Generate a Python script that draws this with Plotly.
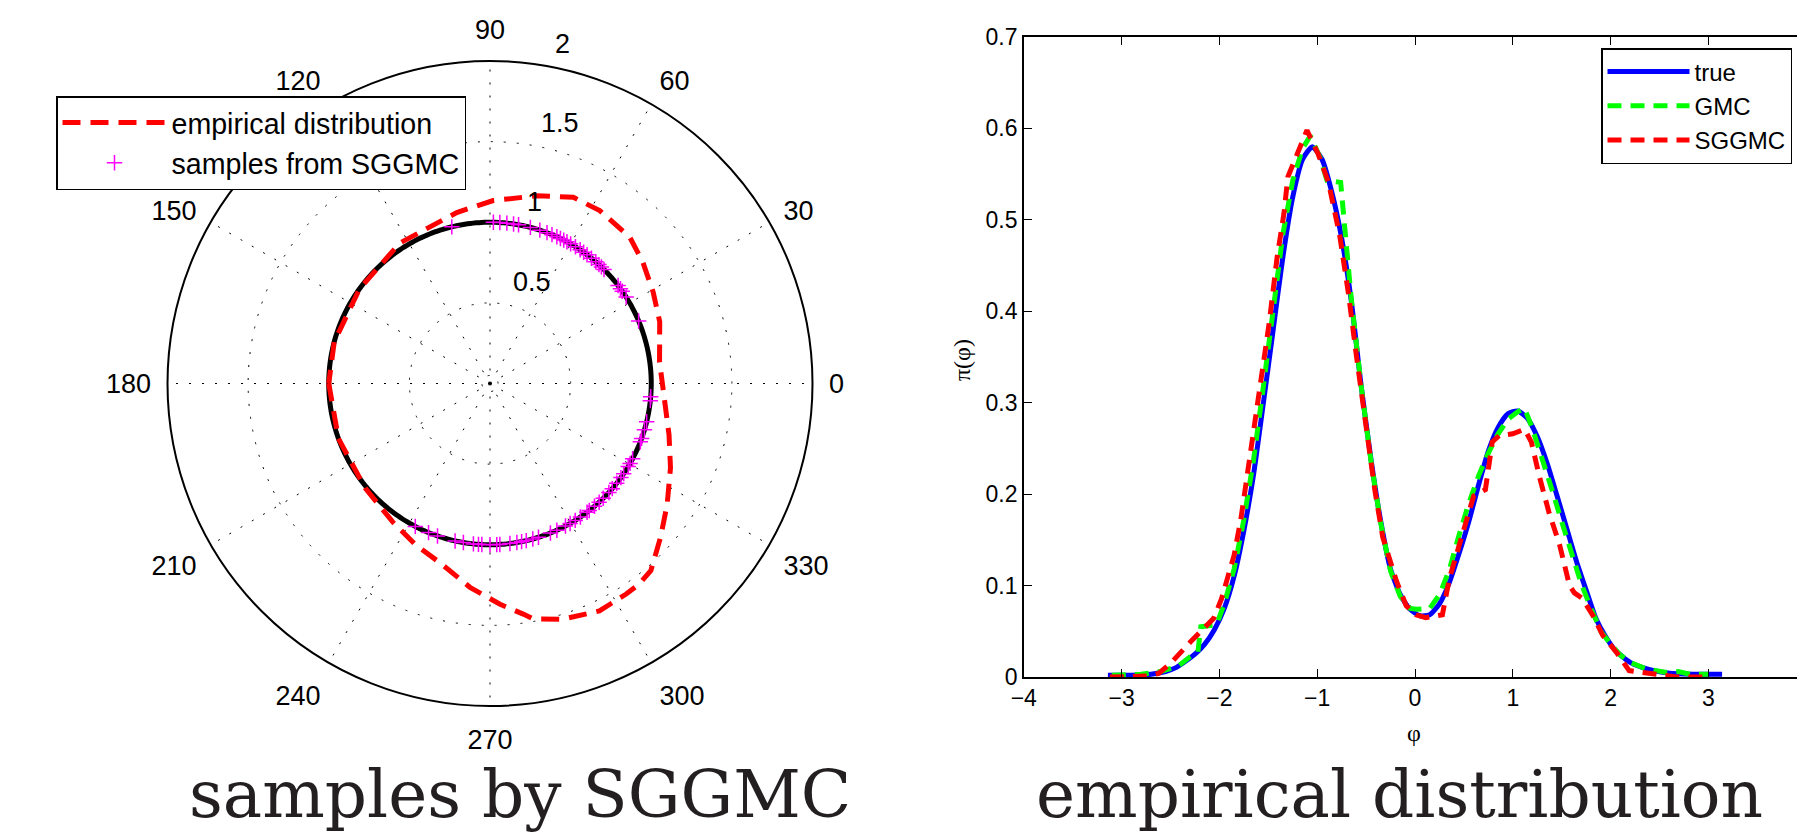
import math
import numpy as np
import plotly.graph_objects as go

# ---------------- data: polar panel ----------------
emp_theta = [-180, -160, -140, -125, -115, -105.5, -95.6, -87.4, -81.8, -79.6, -72.8, -64.3,
             -57.1, -53.4, -49.3, -42.1, -34.3, -25, -16, -4.9, 7.3, 20, 29.3, 38.4, 46.3,
             57.6, 65.9, 76, 89, 101, 122.7, 144, 165, 180]
emp_r = [1.0, 1.0, 1.01, 1.05, 1.10, 1.155, 1.27, 1.37, 1.445, 1.485, 1.53, 1.565,
         1.555, 1.55, 1.53, 1.425, 1.33, 1.235, 1.155, 1.085, 1.06, 1.12, 1.16, 1.21, 1.255,
         1.27, 1.265, 1.20, 1.135, 1.08, 1.035, 1.0, 1.0, 1.0]

sample_theta = [103.7, 88.8, 86.5, 84.0, 81.6, 79.8, 75.5, 72.0, 69.3, 67.4, 65.5, 64.1, 62.8,
                61.5, 60.0, 58.0, 56.0, 54.5, 53.0, 51.0, 49.0, 47.5, 46.3, 45.0, 37.4, 36.0,
                34.9, 32.4, 22.8, -4.7, -6.1, -13.7, -16.7, -19.9, -21.2, -27.8, -29.7, -31.0,
                -34.0, -35.7, -38.2, -40.7, -42.5, -45.4, -47.4, -49.6, -52.0, -53.0, -55.9,
                -58.1, -60.2, -62.1, -65.5, -68.0, -72.5, -74.6, -77.0, -78.7, -80.4, -82.9,
                -86.5, -87.6, -90.0, -92.9, -94.1, -95.9, -99.5, -102.5, -109.0, -112.4, -117.6]
sample_r = [1.0] * len(sample_theta)

unit_radius = 1.0
angle_ticks = [0, 30, 60, 90, 120, 150, 180, 210, 240, 270, 300, 330]
radial_grid = [0.05, 0.5, 1, 1.5, 2]
radial_label_vals = [0.5, 1, 1.5, 2]
radial_labels = ["0.5", "1", "1.5", "2"]
r_max = 2.0

# ---------------- data: density panel ----------------
true_phi = [-3.14, -2.9, -2.7, -2.55, -2.45, -2.35, -2.25, -2.15, -2.05, -1.95, -1.85, -1.75,
            -1.65, -1.55, -1.45, -1.35, -1.25, -1.15, -1.05, -0.95, -0.85, -0.75, -0.65, -0.55,
            -0.45, -0.35, -0.25, -0.15, -0.05, 0.05, 0.15, 0.25, 0.35, 0.45, 0.55, 0.65, 0.75,
            0.85, 0.95, 1.05, 1.15, 1.25, 1.35, 1.45, 1.55, 1.65, 1.75, 1.85, 1.95, 2.05, 2.2,
            2.4, 2.6, 2.85, 3.14]
true_pi = [0.002, 0.002, 0.003, 0.006, 0.010, 0.017, 0.025, 0.036, 0.052, 0.075, 0.110, 0.160,
           0.222, 0.300, 0.380, 0.460, 0.525, 0.566, 0.580, 0.566, 0.530, 0.480, 0.410, 0.318,
           0.238, 0.170, 0.118, 0.090, 0.074, 0.067, 0.068, 0.080, 0.103, 0.135, 0.170, 0.210,
           0.247, 0.273, 0.288, 0.291, 0.283, 0.263, 0.234, 0.199, 0.163, 0.127, 0.095, 0.064,
           0.044, 0.029, 0.016, 0.008, 0.004, 0.003, 0.003]

gmc_phi = [-3.1, -2.8, -2.6, -2.42, -2.3, -2.22, -2.19, -2.03, -1.95, -1.85, -1.75, -1.65,
           -1.55, -1.45, -1.35, -1.25, -1.15, -1.07, -0.97, -0.9, -0.76, -0.7, -0.65, -0.55,
           -0.45, -0.35, -0.25, -0.15, -0.05, 0.02, 0.15, 0.25, 0.35, 0.45, 0.55, 0.65, 0.75,
           0.85, 0.95, 1.05, 1.12, 1.2, 1.3, 1.4, 1.5, 1.6, 1.7, 1.8, 1.9, 2.0, 2.1, 2.2, 2.36,
           2.57, 2.69, 2.81, 3.0]
gmc_pi = [0.002, 0.003, 0.006, 0.012, 0.022, 0.027, 0.055, 0.057, 0.080, 0.118, 0.172, 0.238,
          0.318, 0.405, 0.485, 0.543, 0.578, 0.592, 0.568, 0.543, 0.541, 0.470, 0.412, 0.318,
          0.236, 0.168, 0.116, 0.088, 0.075, 0.074, 0.075, 0.090, 0.117, 0.155, 0.190, 0.220,
          0.245, 0.266, 0.282, 0.290, 0.294, 0.272, 0.240, 0.205, 0.170, 0.135, 0.102, 0.075,
          0.050, 0.036, 0.024, 0.016, 0.009, 0.005, 0.006, 0.003, 0.003]

sg_phi = [-3.12, -2.76, -2.62, -2.49, -2.29, -2.15, -2.06, -1.98, -1.85, -1.78, -1.68, -1.58,
          -1.49, -1.41, -1.34, -1.3, -1.105, -0.99, -0.885, -0.77, -0.68, -0.6, -0.51, -0.41,
          -0.33, -0.19, -0.09, 0.01, 0.11, 0.28, 0.35, 0.44, 0.52, 0.6, 0.72, 0.79, 0.86, 1.0,
          1.12, 1.19, 1.27, 1.37, 1.48, 1.58, 1.63, 1.71, 1.82, 1.92, 2.06, 2.19, 2.29, 2.5,
          2.67, 2.98]
sg_pi = [0.0, 0.001, 0.004, 0.016, 0.039, 0.055, 0.064, 0.085, 0.133, 0.173, 0.245, 0.316,
         0.388, 0.459, 0.507, 0.547, 0.598, 0.572, 0.541, 0.483, 0.419, 0.352, 0.280, 0.204,
         0.153, 0.105, 0.078, 0.068, 0.065, 0.068, 0.107, 0.140, 0.173, 0.198, 0.205, 0.257,
         0.264, 0.266, 0.271, 0.257, 0.220, 0.180, 0.144, 0.100, 0.092, 0.086, 0.067, 0.0455,
         0.027, 0.007, 0.0055, 0.0025, 0.0, 0.0]

x_ticks = [-4, -3, -2, -1, 0, 1, 2, 3, 4]

# ---------------- figure ----------------
W, H = 1797, 834
SANS = "Liberation Sans, Arial, sans-serif"
fig = go.Figure()

circle_theta = np.linspace(0, 360, 361)
fig.add_trace(go.Scatterpolar(
    r=[unit_radius] * len(circle_theta), theta=circle_theta, mode="lines",
    line=dict(color="black", width=5), showlegend=False, hoverinfo="skip"))
fig.add_trace(go.Scatterpolar(
    r=sample_r, theta=sample_theta, mode="markers", name="samples from SGGMC",
    marker=dict(symbol="cross-thin", size=11, line=dict(color="#ff00ff", width=1.5)),
    legend="legend", legendrank=2, legendgroup="b"))
fig.add_trace(go.Scatterpolar(
    r=emp_r, theta=emp_theta, mode="lines", name="empirical distribution",
    line=dict(color="#ff0000", width=5, dash="18px,10px"),
    legend="legend", legendrank=1, legendgroup="a"))

fig.add_trace(go.Scatter(x=true_phi, y=true_pi, mode="lines", name="true",
                         line=dict(color="#0000ff", width=5, shape="spline", smoothing=0.6),
                         xaxis="x", yaxis="y", legend="legend2"))
fig.add_trace(go.Scatter(x=gmc_phi, y=gmc_pi, mode="lines", name="GMC",
                         line=dict(color="#00ff00", width=5, dash="14px,9px"),
                         xaxis="x", yaxis="y", legend="legend2"))
fig.add_trace(go.Scatter(x=sg_phi, y=sg_pi, mode="lines", name="SGGMC",
                         line=dict(color="#ff0000", width=5, dash="14px,9px"),
                         xaxis="x", yaxis="y", legend="legend2"))

cx, cy, R = 490, 383.5, 322.5
fig.update_layout(
    width=W, height=H, margin=dict(l=0, r=0, t=0, b=0, autoexpand=False),
    paper_bgcolor="white", plot_bgcolor="white",
    font=dict(family=SANS, color="black"),
    polar=dict(
        domain=dict(x=[(cx - R) / W, (cx + R) / W], y=[1 - (cy + R) / H, 1 - (cy - R) / H]),
        bgcolor="white",
        angularaxis=dict(
            rotation=0, direction="counterclockwise", tickmode="array",
            tickvals=angle_ticks, ticktext=[str(a) for a in angle_ticks],
            showline=True, linecolor="black", linewidth=2,
            showgrid=True, gridcolor="black", gridwidth=1, griddash="2px,11px",
            ticks="outside", ticklen=10, tickcolor="rgba(0,0,0,0)",
            tickfont=dict(size=27, family=SANS)),
        radialaxis=dict(
            range=[0, r_max], tickmode="array", tickvals=radial_grid, showticklabels=False,
            showline=False, angle=80, ticks="",
            showgrid=True, gridcolor="black", gridwidth=1, griddash="2px,11px"),
    ),
    xaxis=dict(domain=[1023.8 / W, 1.0], range=[-4, -4 + (W - 1023.8) / 97.8],
               tickmode="array", tickvals=x_ticks, ticks="inside", ticklen=8, tickwidth=1.2,
               tickcolor="black", showline=True, linecolor="black", linewidth=1.5,
               mirror="ticks", showgrid=False, zeroline=False,
               tickfont=dict(size=23, family=SANS)),
    yaxis=dict(domain=[1 - 677 / H, 1 - 37 / H], range=[0, 0.7], dtick=0.1,
               ticks="inside", ticklen=8, tickwidth=1.2, tickcolor="black",
               showline=True, linecolor="black", linewidth=1.5, mirror=False,
               showgrid=False, zeroline=False, tickfont=dict(size=23, family=SANS)),
    legend=dict(x=56 / W, y=1 - 96 / H, xanchor="left", yanchor="top",
                bgcolor="white", bordercolor="black", borderwidth=1.5,
                font=dict(size=28.6, family=SANS), itemwidth=104, tracegroupgap=7,
                traceorder="normal"),
    legend2=dict(x=1601 / W, y=1 - 48 / H, xanchor="left", yanchor="top",
                 bgcolor="white", bordercolor="black", borderwidth=1.5,
                 font=dict(size=24, family=SANS), itemwidth=82, traceorder="normal",
                 tracegroupgap=0),
    showlegend=True,
)

# radial tick labels, placed like MATLAB's polar(): just outside each ring at 80 degrees
label_angle = math.radians(80)
for v, txt in zip(radial_label_vals, radial_labels):
    rho = (v + 0.14) / r_max * R
    fig.add_annotation(text=txt, x=(cx + rho * math.cos(label_angle) + 3) / W,
                       y=1 - (cy - rho * math.sin(label_angle)) / H,
                       xref="paper", yref="paper", xanchor="left", yanchor="middle",
                       showarrow=False, font=dict(size=27, family=SANS, color="black"))

fig.add_annotation(text="samples by SGGMC", x=520 / W, y=1 - 794 / H, xref="paper", yref="paper",
                   xanchor="center", yanchor="middle", showarrow=False,
                   font=dict(family="DejaVu Serif, serif", size=66, color="#231f20"))
fig.add_annotation(text="empirical distribution", x=1399 / W, y=1 - 794 / H, xref="paper",
                   yref="paper", xanchor="center", yanchor="middle", showarrow=False,
                   font=dict(family="DejaVu Serif, serif", size=66, color="#231f20"))
fig.add_annotation(text="φ", x=1414 / W, y=1 - 733 / H, xref="paper", yref="paper",
                   xanchor="center", yanchor="middle", showarrow=False,
                   font=dict(family="Liberation Serif, serif", size=24))
fig.add_annotation(text="π(φ)", x=962 / W, y=1 - 360 / H, xref="paper", yref="paper",
                   xanchor="center", yanchor="middle", showarrow=False, textangle=-90,
                   font=dict(family="Liberation Serif, serif", size=24))

fig.write_html("out.html", config={"displayModeBar": False},
               post_script="document.body.style.margin='0px';")
